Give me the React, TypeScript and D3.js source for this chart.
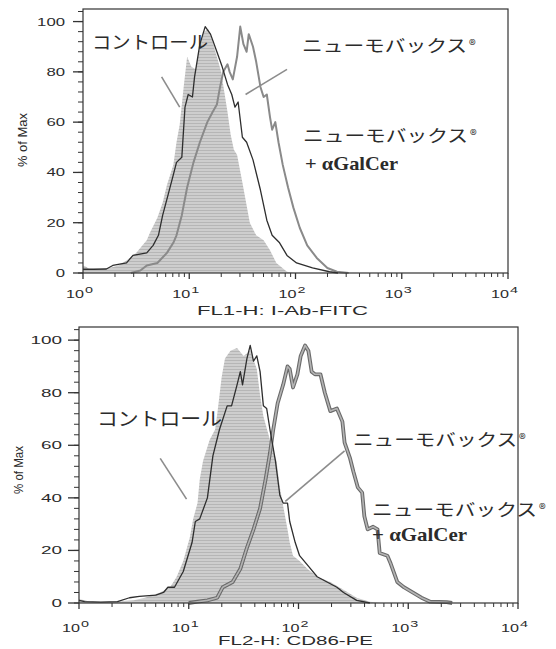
import * as d3 from 'd3';

// flow cytometry overlays, x = log10(fluorescence), y = % of Max
type Pt = [number, number];

const pneumoLabel = 'ニューモバックス';
const controlLabel = 'コントロール';
const galcerLabel = '+ αGalCer';
const yTickValues = [0, 20, 40, 60, 80, 100];
const decades = [0, 1, 2, 3, 4];

// top panel: I-Ab
const topControl: Pt[] = [
  [0, 3], [0.03, 2.5], [0.06, 1.5], [0.15, 1.5], [0.25, 2], [0.33, 3], [0.41, 5], [0.5, 8],
  [0.56, 11], [0.6, 13], [0.63, 16], [0.7, 22], [0.75, 28], [0.79, 35], [0.85, 43], [0.88, 52],
  [0.91, 59], [0.95, 75], [0.98, 86], [1.02, 82], [1.06, 81], [1.1, 90], [1.14, 96], [1.18, 97],
  [1.22, 92], [1.26, 86], [1.3, 80], [1.33, 72], [1.36, 64], [1.39, 55], [1.42, 49], [1.45, 47],
  [1.5, 36], [1.57, 20], [1.63, 15], [1.7, 13], [1.76, 9], [1.82, 4], [1.92, 0.5], [2.0, 0],
];
const topDark: Pt[] = [
  [0, 1.5], [0.1, 1.5], [0.22, 1.6], [0.28, 3], [0.41, 4], [0.47, 7], [0.6, 8], [0.66, 11],
  [0.71, 15], [0.75, 23], [0.8, 31], [0.85, 39], [0.88, 44], [0.93, 46], [0.96, 66], [0.99, 71],
  [1.03, 70], [1.05, 78], [1.1, 91], [1.15, 98], [1.2, 95], [1.26, 88], [1.31, 82], [1.36, 75],
  [1.4, 71], [1.43, 66], [1.46, 68], [1.5, 54], [1.54, 52], [1.6, 45], [1.67, 33], [1.73, 21],
  [1.78, 15], [1.85, 12], [1.92, 7], [2.01, 4], [2.16, 2], [2.32, 0.5], [2.4, 0],
];
const topGray: Pt[] = [
  [0.45, 0], [0.54, 1], [0.6, 3], [0.7, 4], [0.79, 8], [0.85, 12], [0.88, 15], [0.93, 23],
  [0.98, 34], [1.04, 44], [1.1, 52], [1.17, 60], [1.22, 64], [1.26, 67], [1.29, 74], [1.32, 80],
  [1.36, 83], [1.38, 80], [1.41, 77], [1.45, 86], [1.48, 98], [1.51, 91], [1.54, 88], [1.56, 95],
  [1.6, 90], [1.63, 84], [1.67, 74], [1.7, 70], [1.73, 71], [1.76, 62], [1.78, 57], [1.81, 60],
  [1.84, 52], [1.88, 43], [1.93, 34], [1.98, 26], [2.04, 18], [2.11, 11], [2.2, 6], [2.3, 2],
  [2.39, 0.5], [2.5, 0],
];

// bottom panel: CD86
const bottomControl: Pt[] = [
  [0, 1.5], [0.05, 1], [0.1, 0.5], [0.3, 0.5], [0.5, 1], [0.6, 2], [0.74, 4], [0.83, 6],
  [0.89, 10], [0.95, 16], [1.01, 25], [1.04, 32], [1.08, 38], [1.1, 47], [1.13, 54], [1.19, 62],
  [1.24, 66], [1.26, 72], [1.3, 86], [1.33, 93], [1.38, 96], [1.44, 97], [1.5, 94], [1.56, 96],
  [1.62, 89], [1.65, 79], [1.68, 71], [1.74, 62], [1.8, 54], [1.83, 44], [1.86, 37], [1.9, 28],
  [1.92, 23], [1.95, 18], [2.01, 16], [2.08, 13], [2.17, 10], [2.29, 8], [2.41, 5], [2.53, 2],
  [2.65, 0.5], [2.75, 0],
];
const bottomDark: Pt[] = [
  [0, 1], [0.05, 0.5], [0.2, 0.3], [0.35, 0.5], [0.46, 2], [0.55, 2.5], [0.7, 3], [0.77, 4],
  [0.81, 6], [0.87, 6], [0.95, 12], [1.03, 23], [1.06, 31], [1.1, 32], [1.17, 40], [1.22, 56],
  [1.28, 66], [1.35, 75], [1.39, 75], [1.44, 83], [1.47, 88], [1.49, 83], [1.53, 93], [1.56, 98],
  [1.59, 92], [1.62, 94], [1.65, 88], [1.68, 75], [1.71, 74], [1.74, 66], [1.79, 54], [1.83, 41],
  [1.86, 38], [1.9, 38], [1.92, 31], [1.97, 23], [2.01, 18], [2.09, 14], [2.17, 10], [2.26, 8],
  [2.35, 6], [2.41, 4], [2.53, 1], [2.65, 0],
];
const bottomGray: Pt[] = [
  [1.0, 0], [1.08, 0.5], [1.17, 1], [1.26, 2], [1.31, 6], [1.4, 8], [1.47, 13], [1.53, 21],
  [1.59, 28], [1.65, 36], [1.7, 47], [1.74, 57], [1.77, 66], [1.81, 76], [1.86, 83], [1.9, 90],
  [1.92, 89], [1.95, 82], [1.99, 87], [2.02, 94], [2.06, 98], [2.09, 96], [2.12, 88], [2.15, 87],
  [2.2, 87], [2.24, 80], [2.29, 73], [2.35, 74], [2.4, 69], [2.42, 61], [2.47, 55], [2.5, 50],
  [2.54, 44], [2.58, 42], [2.6, 33], [2.63, 28], [2.68, 29], [2.72, 28], [2.74, 19], [2.81, 18],
  [2.84, 15], [2.9, 8], [2.96, 6], [3.04, 4], [3.12, 2], [3.2, 0.5], [3.35, 0.3], [3.4, 0],
];

// leader lines, in data units
const topControlLeader: Pt[] = [[0.74, 78], [0.91, 66]];
const topPneumoLeader: Pt[] = [[1.53, 71], [1.92, 81]];
const bottomControlLeader: Pt[] = [[0.74, 55], [0.98, 39.5]];
const bottomPneumoLeader: Pt[] = [[1.88, 38.7], [2.42, 57.9]];

const panels = [
  {
    left: 83, right: 508, top: 9, bottom: 273,
    control: topControl, dark: topDark, gray: topGray, thick: false,
    leaders: [topControlLeader, topPneumoLeader],
    xTitle: 'FL1-H: I-Ab-FITC', xTitlePos: [197, 315, 171],
    yTitlePos: [27, 140, 54], tickLen: 10, labelGap: 8, digitW: 9.3, tickBase: 298,
    labels: {
      control: [92, 49, 116, 18],
      pneumo1: [302, 52, 165],
      pneumo2: [303, 142, 165],
      galcer: [305, 170, 93],
    },
  },
  {
    left: 79, right: 518, top: 327, bottom: 603,
    control: bottomControl, dark: bottomDark, gray: bottomGray, thick: true,
    leaders: [bottomControlLeader, bottomPneumoLeader],
    xTitle: 'FL2-H: CD86-PE', xTitlePos: [218, 645, 155],
    yTitlePos: [23, 470, 48], tickLen: 11, labelGap: 6, digitW: 10.5, tickBase: 632,
    labels: {
      control: [97, 426, 125, 19],
      pneumo1: [353, 446, 164],
      pneumo2: [372, 516, 165],
      galcer: [372, 541, 95],
    },
  },
];

const sans = 'Liberation Sans, Arial, sans-serif';
const jp = 'Noto Sans CJK JP, sans-serif';
const ink = '#2b2b2b';

function Pneumo({ pos }: { pos: number[] }) {
  const [px, py, len] = pos;
  return (
    <g fill={ink}>
      <text x={px} y={py} fontFamily={jp} fontSize={17}
        textLength={len} lengthAdjust="spacingAndGlyphs">{pneumoLabel}</text>
      <text x={px + len + 2} y={py - 2} fontFamily={jp} fontSize={14}>®</text>
    </g>
  );
}

function Panel({ p }: { p: any }) {
  const x = d3.scaleLog().domain([1, 1e4]).range([p.left, p.right]);
  const y = d3.scaleLinear().domain([0, 105]).range([p.bottom, p.top]);
  const fx = (d: Pt) => x(Math.pow(10, d[0]));
  const area = d3.area<Pt>().x(fx).y0(y(0)).y1((d) => y(d[1]));
  const line = d3.line<Pt>().x(fx).y((d) => y(d[1]));

  const yMinor = d3.range(0, 105, 4);
  const xMinor: number[] = [];
  decades.slice(0, -1).forEach((e) => {
    for (let k = 2; k < 10; k++) xMinor.push(k * Math.pow(10, e));
  });

  const L = p.labels;
  return (
    <g>
      <path d={area(p.control) || ''} fill="url(#stipple)" />
      {p.thick ? (
        <g fill="none" strokeLinejoin="round">
          <path d={line(p.gray) || ''} stroke="#6a6a6a" strokeWidth={3.8} />
          <path d={line(p.gray) || ''} stroke="#b4b4b4" strokeWidth={1.6} />
        </g>
      ) : (
        <path d={line(p.gray) || ''} fill="none" stroke="#8a8a8a" strokeWidth={2} strokeLinejoin="round" />
      )}
      <path d={line(p.dark) || ''} fill="none" stroke="#2e2e2e" strokeWidth={1.3} strokeLinejoin="round" />

      {p.leaders.map((seg: Pt[], i: number) => (
        <path key={i} d={line(seg) || ''} stroke="#8c8c8c" strokeWidth={1.6} fill="none" />
      ))}

      {/* frame */}
      <rect x={p.left} y={p.top} width={p.right - p.left} height={p.bottom - p.top}
        fill="none" stroke="#333" strokeWidth={1.2} />

      {/* y axis */}
      {yMinor.map((v) => (
        <line key={'ym' + v} x1={p.left - 5} x2={p.left} y1={y(v)} y2={y(v)} stroke="#333" strokeWidth={1} />
      ))}
      {yTickValues.map((v) => (
        <g key={'y' + v}>
          <line x1={p.left - p.tickLen} x2={p.left} y1={y(v)} y2={y(v)} stroke="#333" strokeWidth={1.3} />
          <text x={p.left - p.tickLen - p.labelGap} y={y(v) + 4} textAnchor="end"
            fontFamily={sans} fontSize={11} fill={ink}
            textLength={p.digitW * String(v).length} lengthAdjust="spacingAndGlyphs">{v}</text>
        </g>
      ))}

      {/* x axis */}
      {xMinor.map((v) => (
        <line key={'xm' + v} x1={x(v)} x2={x(v)} y1={p.bottom} y2={p.bottom + 4} stroke="#333" strokeWidth={1} />
      ))}
      {decades.map((e) => {
        const tx = x(Math.pow(10, e));
        return (
          <g key={'x' + e} fill={ink} fontFamily={sans}>
            <line x1={tx} x2={tx} y1={p.bottom} y2={p.bottom + 6} stroke="#333" strokeWidth={1.3} />
            <text x={tx + 1} y={p.tickBase} textAnchor="end" fontSize={11}
              textLength={18} lengthAdjust="spacingAndGlyphs">10</text>
            <text x={tx + 2} y={p.tickBase - 5} fontSize={9}
              textLength={8} lengthAdjust="spacingAndGlyphs">{e}</text>
          </g>
        );
      })}

      <text x={p.xTitlePos[0]} y={p.xTitlePos[1]} fontFamily={sans} fontSize={13} fill={ink}
        textLength={p.xTitlePos[2]} lengthAdjust="spacingAndGlyphs">{p.xTitle}</text>
      <text transform={`translate(${p.yTitlePos[0]},${p.yTitlePos[1]}) rotate(-90)`} textAnchor="middle"
        fontFamily={sans} fontSize={13} fill={ink}
        textLength={p.yTitlePos[2]} lengthAdjust="spacingAndGlyphs">% of Max</text>

      {/* annotations */}
      <text x={L.control[0]} y={L.control[1]} fontFamily={jp} fontSize={L.control[3]}
        fill={ink} textLength={L.control[2]} lengthAdjust="spacingAndGlyphs">{controlLabel}</text>
      <Pneumo pos={L.pneumo1} />
      <Pneumo pos={L.pneumo2} />
      <text x={L.galcer[0]} y={L.galcer[1]} fontFamily="Liberation Serif, DejaVu Serif, serif"
        fontWeight="bold" fontSize={19} fill={ink}
        textLength={L.galcer[2]} lengthAdjust="spacingAndGlyphs">{galcerLabel}</text>
    </g>
  );
}

export default function App() {
  return (
    <svg width={556} height={649} style={{ position: 'absolute', left: 0, top: 0, background: '#fff' }}>
      <defs>
        <pattern id="stipple" width={3} height={3} patternUnits="userSpaceOnUse">
          <rect width={3} height={3} fill="#cecece" />
          <rect width={3} height={1} fill="#b6b6b6" />
        </pattern>
      </defs>
      {panels.map((p, i) => (
        <Panel key={i} p={p} />
      ))}
    </svg>
  );
}
